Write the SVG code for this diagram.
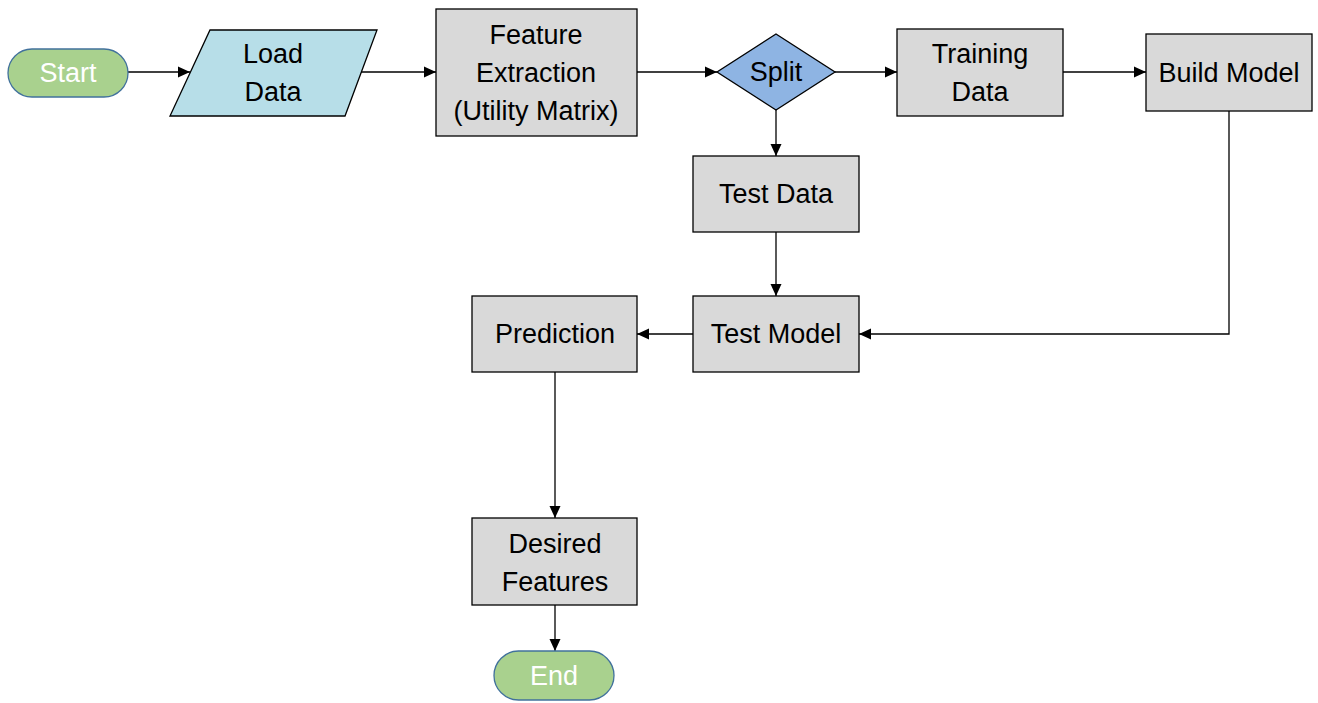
<svg xmlns="http://www.w3.org/2000/svg" width="1318" height="703" viewBox="0 0 1318 703">
<defs>
<marker id="ah" markerWidth="13" markerHeight="13" refX="12" refY="6" orient="auto" markerUnits="userSpaceOnUse">
<path d="M0,0.5 L12,6 L0,11.5 Z" fill="#000"/>
</marker>
<style>
.box{fill:#d9d9d9;stroke:#000;stroke-width:1.3}
.term{fill:#a9d18e;stroke:#41719c;stroke-width:1.3}
.io{fill:#b7dee8;stroke:#000;stroke-width:1.3}
.dec{fill:#8eb4e3;stroke:#000;stroke-width:1.3}
.t{font-family:"Liberation Sans",Arial,sans-serif;font-size:27px;fill:#000;text-anchor:middle}
.tw{fill:#fff}
.c{fill:none;stroke:#000;stroke-width:1.3;marker-end:url(#ah)}
</style>
</defs>
<rect width="1318" height="703" fill="#fff"/>
<g id="connectors">
<line class="c" x1="128" y1="72" x2="190" y2="72"/>
<line class="c" x1="361" y1="72" x2="436" y2="72"/>
<line class="c" x1="637" y1="72" x2="717" y2="72"/>
<line class="c" x1="835" y1="72" x2="897" y2="72"/>
<line class="c" x1="1063" y1="72" x2="1146" y2="72"/>
<line class="c" x1="776" y1="110" x2="776" y2="156"/>
<line class="c" x1="776" y1="232" x2="776" y2="296"/>
<polyline class="c" points="1229,111 1229,334 859,334"/>
<line class="c" x1="693" y1="334" x2="637" y2="334"/>
<line class="c" x1="555" y1="372" x2="555" y2="518"/>
<line class="c" x1="555" y1="605" x2="555" y2="651"/>
</g>
<g id="start">
<rect class="term" x="8" y="49" width="120" height="48" rx="24" ry="24"/>
<text class="t tw" x="68" y="82">Start</text>
</g>
<g id="load-data">
<polygon class="io" points="210,30 377,30 345,116 170,116"/>
<text class="t" x="273" y="63">Load</text>
<text class="t" x="273" y="101">Data</text>
</g>
<g id="feature-extraction">
<rect class="box" x="436" y="9" width="201" height="127"/>
<text class="t" x="536" y="44">Feature</text>
<text class="t" x="536" y="82">Extraction</text>
<text class="t" x="536" y="120">(Utility Matrix)</text>
</g>
<g id="split">
<polygon class="dec" points="776,34 835,72 776,110 717,72"/>
<text class="t" x="776" y="81">Split</text>
</g>
<g id="training-data">
<rect class="box" x="897" y="29" width="166" height="87"/>
<text class="t" x="980" y="63">Training</text>
<text class="t" x="980" y="101">Data</text>
</g>
<g id="build-model">
<rect class="box" x="1146" y="34" width="166" height="77"/>
<text class="t" x="1229" y="82">Build Model</text>
</g>
<g id="test-data">
<rect class="box" x="693" y="156" width="166" height="76"/>
<text class="t" x="776" y="203">Test Data</text>
</g>
<g id="test-model">
<rect class="box" x="693" y="296" width="166" height="76"/>
<text class="t" x="776" y="343">Test Model</text>
</g>
<g id="prediction">
<rect class="box" x="472" y="296" width="165" height="76"/>
<text class="t" x="555" y="343">Prediction</text>
</g>
<g id="desired-features">
<rect class="box" x="472" y="518" width="165" height="87"/>
<text class="t" x="555" y="553">Desired</text>
<text class="t" x="555" y="591">Features</text>
</g>
<g id="end">
<rect class="term" x="494" y="651" width="120" height="49" rx="24.5" ry="24.5"/>
<text class="t tw" x="554" y="685">End</text>
</g>
</svg>
